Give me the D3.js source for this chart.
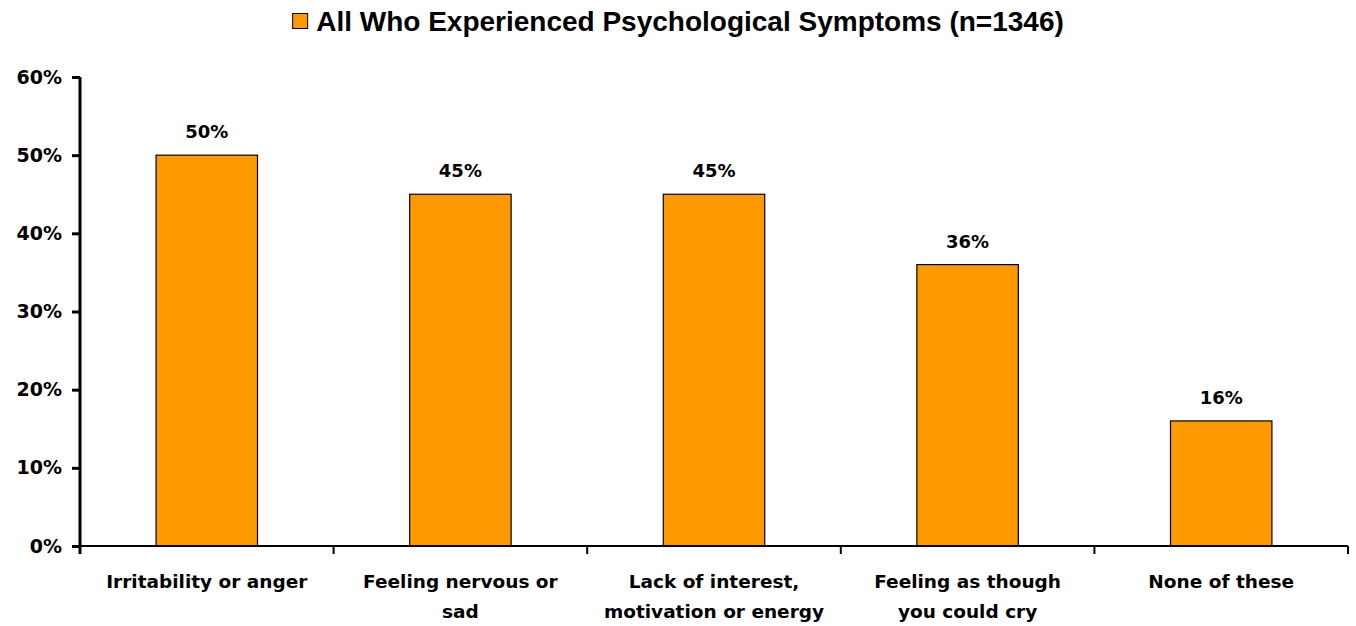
<!DOCTYPE html>
<html>
<head>
<meta charset="utf-8">
<script src="https://cdn.jsdelivr.net/npm/d3@7"></script>
<style>
body { margin: 0; background: #fff; }
text { font-family: "DejaVu Sans", Verdana, sans-serif; font-weight: bold; fill: #000; }
</style>
</head>
<body>
<svg id="chart" width="1356" height="626"></svg>
<script>
// values
var categories = [
	["Irritability or anger"],
	["Feeling nervous or", "sad"],
	["Lack of interest,", "motivation or energy"],
	["Feeling as though", "you could cry"],
	["None of these"]
];
var values = [50, 45, 45, 36, 16];
var yTicks = [0, 10, 20, 30, 40, 50, 60];
var seriesName = "All Who Experienced Psychological Symptoms (n=1346)";

var cfg = {
	left: 80,
	right: 1348,
	top: 77,
	bottom: 546,
	barColor: "#FF9900"
};

var svg = d3.select("#chart");

var x = d3.scaleBand()
	.domain(d3.range(values.length))
	.range([cfg.left, cfg.right])
	.paddingInner(0)
	.paddingOuter(0);

var y = d3.scaleLinear()
	.domain([0, 60])
	.range([cfg.bottom, cfg.top]);

// legend / title
var legend = svg.append("g");
var legText = legend.append("text")
	.attr("x", 313)
	.attr("y", 31)
	.style("font-family", "'Liberation Sans', Arial, sans-serif")
	.style("font-size", "28px")
	.text(seriesName);
var tw = legText.node().getComputedTextLength();
var lx = (1356 - (tw + 24)) / 2;
legText.attr("x", lx + 24);
legend.append("rect")
	.attr("x", lx + 0.5)
	.attr("y", 13.5)
	.attr("width", 15)
	.attr("height", 15)
	.attr("fill", cfg.barColor)
	.attr("stroke", "#000")
	.attr("stroke-width", 1);

// bars
var bw = x.bandwidth() * 0.4;
svg.selectAll("rect.bar")
	.data(values)
	.enter().append("rect")
	.attr("class", "bar")
	.attr("x", function(d, i) { return x(i) + (x.bandwidth() - bw) / 2; })
	.attr("y", function(d) { return y(d); })
	.attr("width", bw)
	.attr("height", function(d) { return cfg.bottom - y(d); })
	.attr("fill", cfg.barColor)
	.attr("stroke", "#000")
	.attr("stroke-width", 1.2);

// value labels
svg.selectAll("text.val")
	.data(values)
	.enter().append("text")
	.attr("class", "val")
	.attr("x", function(d, i) { return x(i) + x.bandwidth() / 2; })
	.attr("y", function(d) { return y(d) - 17; })
	.attr("text-anchor", "middle")
	.style("font-size", "18px")
	.text(function(d) { return d + "%"; });

// y axis
var yAxis = d3.axisLeft(y)
	.tickValues(yTicks)
	.tickSize(8)
	.tickPadding(10)
	.tickFormat(function(d) { return d + "%"; });
var gy = svg.append("g")
	.attr("transform", "translate(" + cfg.left + ",0)")
	.call(yAxis);
gy.select(".domain").attr("stroke", "#000").attr("stroke-width", 3)
	.attr("d", "M0," + (cfg.top) + "V" + (cfg.bottom + 8));
gy.selectAll(".tick line").attr("stroke", "#000").attr("stroke-width", 3);
gy.selectAll(".tick text")
	.style("font-size", "19px")
	.style("font-family", "'DejaVu Sans', Verdana, sans-serif")
	.style("font-weight", "bold")
	.attr("fill", "#000");

// x axis
var gx = svg.append("g");
gx.append("line")
	.attr("x1", cfg.left)
	.attr("x2", cfg.right)
	.attr("y1", cfg.bottom)
	.attr("y2", cfg.bottom)
	.attr("stroke", "#000")
	.attr("stroke-width", 2);
var bounds = d3.range(values.length + 1).map(function(i) {
	return i < values.length ? x(i) : cfg.right;
});
gx.selectAll("line.tick")
	.data(bounds.slice(1))
	.enter().append("line")
	.attr("class", "tick")
	.attr("x1", function(d) { return d; })
	.attr("x2", function(d) { return d; })
	.attr("y1", cfg.bottom)
	.attr("y2", cfg.bottom + 8)
	.attr("stroke", "#000")
	.attr("stroke-width", 2);

// category labels
var cat = svg.selectAll("text.cat")
	.data(categories)
	.enter().append("text")
	.attr("class", "cat")
	.attr("text-anchor", "middle")
	.style("font-size", "18.5px");
cat.each(function(lines, i) {
	var t = d3.select(this);
	lines.forEach(function(l, j) {
		t.append("tspan")
			.attr("x", x(i) + x.bandwidth() / 2)
			.attr("y", 588 + j * 30)
			.text(l);
	});
});
</script>
</body>
</html>
